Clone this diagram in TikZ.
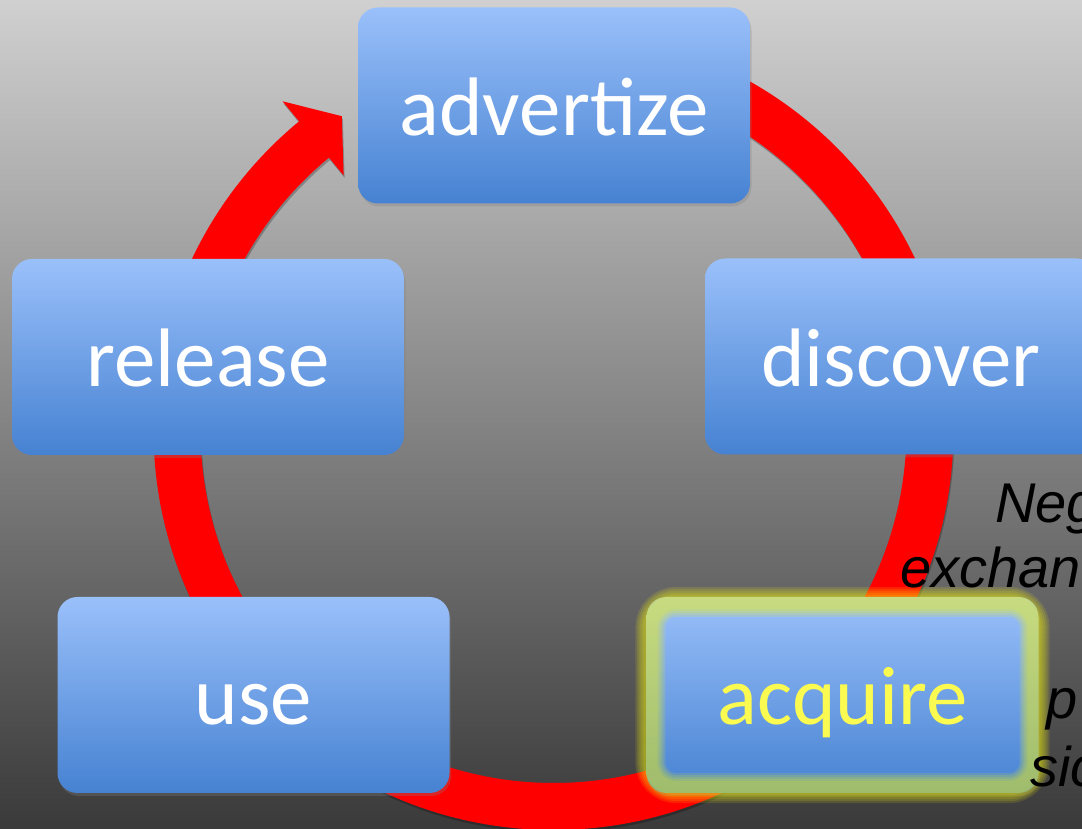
\documentclass[tikz,border=0pt]{standalone}
\usepackage{fontspec}
\setmainfont{Carlito}
\newfontfamily\notefont{Liberation Sans}
\usetikzlibrary{shadows}
\definecolor{bgtop}{RGB}{208,208,208}
\definecolor{bgbot}{RGB}{58,58,58}
\definecolor{boxtop}{RGB}{154,192,250}
\definecolor{boxbot}{RGB}{70,130,210}
\definecolor{ringred}{RGB}{255,0,0}
\definecolor{glowyel}{RGB}{250,250,10}
\definecolor{acqtext}{RGB}{250,250,80}
\begin{document}
\begin{tikzpicture}[x=1pt,y=1pt,
  stepbox/.style={rounded corners=20pt, top color=boxtop, bottom color=boxbot,
    minimum width=392pt, minimum height=196pt, inner sep=0pt, text=white,
    font=\fontsize{83}{90}\selectfont, text height=60pt, text depth=0pt,
    drop shadow={opacity=0.3, shadow xshift=1.5pt, shadow yshift=-3pt}},
  notetext/.style={inner sep=0pt, anchor=base west, text=black,
    font=\notefont\itshape\fontsize{56}{64}\selectfont},
  glowline/.style={draw=glowyel, rounded corners=26pt, opacity=0.13}]
\useasboundingbox (0,0) rectangle (1082,829);
\shade[top color=bgtop, bottom color=bgbot] (0,0) rectangle (1082,829);
% cycle arrow
\begin{scope}[shift={(553.5,399)}]
  \fill[black, opacity=0.25, xshift=1pt, yshift=-2.5pt]
    (90:400) arc[start angle=90, end angle=-230.5, radius=400]
    -- (129.5:426) -- (124:378.5) -- (129.5:330) -- (129.5:353)
    arc[start angle=129.5, end angle=450, radius=353] -- cycle;
  \fill[ringred]
    (90:400) arc[start angle=90, end angle=-230.5, radius=400]
    -- (129.5:426) -- (124:378.5) -- (129.5:330) -- (129.5:353)
    arc[start angle=129.5, end angle=450, radius=353] -- cycle;
\end{scope}
% boxes
\node[stepbox] (adv) at (554,723.5) {advertize};
\node[stepbox] (rel) at (208,472) {release};
\node[stepbox] (dis) at (901,472.5) {discover};
\node[stepbox] (use) at (253.5,134) {use};
\node[stepbox, text=acqtext] (acq) at (842.5,134) {acquire};
% glow round acquire
\foreach \w in {30,26,22,18,14}
  \draw[glowline, line width=\w pt]
    ([xshift=4pt,yshift=-5pt]acq.north west) rectangle ([xshift=-4pt,yshift=5pt]acq.south east);
% side note (cut by the picture edge, as in the reference)
\node[notetext] (t1) at (995,306) {Neg};
\node[notetext] (t2) at (900,241) {exchan};
\node[notetext] (t3) at (1046,110) {p};
\node[notetext] (t4) at (1030,42) {sic};
\end{tikzpicture}
\end{document}
